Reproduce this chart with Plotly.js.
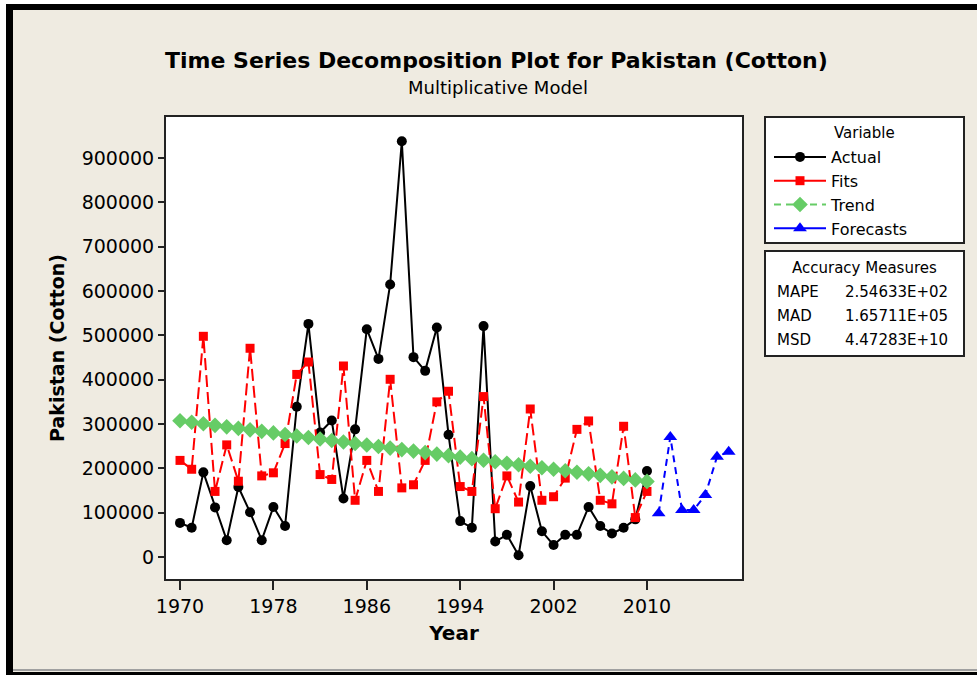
<!DOCTYPE html>
<html><head><meta charset="utf-8">
<script src="https://cdn.plot.ly/plotly-3.0.1.min.js"></script>
<style>html,body{margin:0;padding:0;background:#fff}#chart{width:977px;height:675px}</style>
</head><body><div id="chart"></div>
<script>
const years = [1970,1971,1972,1973,1974,1975,1976,1977,1978,1979,1980,1981,1982,1983,1984,1985,1986,1987,1988,1989,1990,1991,1992,1993,1994,1995,1996,1997,1998,1999,2000,2001,2002,2003,2004,2005,2006,2007,2008,2009,2010];
const actual = [77000,66000,191000,112000,38000,158000,101000,38000,113000,70000,339000,526000,281000,308000,132000,288000,514000,447000,615000,938000,451000,420000,518000,276000,81000,66000,521000,35000,50000,4000,160000,58000,27000,50000,50000,113000,70000,53000,66000,85000,194000];
const fits = [218000,198000,498000,148000,253000,171000,471000,183000,190000,256000,412000,440000,186000,175000,431000,128000,218000,148000,401000,156000,163000,218000,350000,374000,159000,148000,362000,109000,183000,124000,334000,128000,136000,178000,288000,307000,128000,120000,295000,89000,148000];
const trend = [307400,304000,300600,297100,293700,290300,286900,283500,280000,276600,273200,269800,266400,262900,259500,256100,252700,249300,245800,242400,239000,235600,232200,228700,225300,221900,218500,215100,211600,208200,204800,201400,198000,194500,191100,187700,184300,180900,177400,174000,170600];
const forecastYears = [2011,2012,2013,2014,2015,2016,2017];
const forecasts = [98500,271000,106000,106000,140000,226000,237500];
const xTickVals = [1970,1978,1986,1994,2002,2010];
const yTickVals = [0,100000,200000,300000,400000,500000,600000,700000,800000,900000];
const accuracyLabels = ['MAPE','MAD','MSD'];
const accuracyValues = ['2.54633E+02','1.65711E+05','4.47283E+10'];

const W = 977, H = 675;
const M = {l:166, r:235, t:117, b:96};
const PW = W - M.l - M.r, PH = H - M.t - M.b;
const px = x => (x - M.l) / PW;
const py = y => (H - M.b - y) / PH;
const font = 'DejaVu Sans, Verdana, sans-serif';
const beige = 'rgb(239,235,225)';

const styles = {
  Actual: {line: {color: '#000', width: 2}, marker: {symbol: 'circle', size: 10, color: '#000'}},
  Fits: {line: {color: '#ff0000', width: 2, dash: '12px,5px'}, marker: {symbol: 'square', size: 9, color: '#ff0000'}},
  Trend: {line: {color: '#66cc66', width: 2, dash: '8px,5px'}, marker: {symbol: 'diamond', size: 12, color: '#66cc66'}},
  Forecasts: {line: {color: '#0000ff', width: 2, dash: '7px,5px'}, marker: {symbol: 'triangle-up', size: 12, color: '#0000ff'}}
};

const traces = [
  {x: years, y: actual, name: 'Actual', showlegend:false, type: 'scatter', mode: 'lines+markers', line: styles.Actual.line, marker: styles.Actual.marker},
  {x: years, y: fits, name: 'Fits', showlegend:false, type: 'scatter', mode: 'lines+markers', line: styles.Fits.line, marker: styles.Fits.marker},
  {x: years, y: trend, name: 'Trend', showlegend:false, type: 'scatter', mode: 'lines+markers', line: styles.Trend.line, marker: styles.Trend.marker},
  {x: forecastYears, y: forecasts, name: 'Forecasts', showlegend:false, type: 'scatter', mode: 'lines+markers', line: styles.Forecasts.line, marker: styles.Forecasts.marker},
  {x:[null], y:[null], name:'Actual', type:'scatter', mode:'lines+markers', line:{color:'#000', width:2}, marker: styles.Actual.marker},
  {x:[null], y:[null], name:'Fits', type:'scatter', mode:'lines+markers', line:{color:'#ff0000', width:2}, marker: styles.Fits.marker},
  {x:[null], y:[null], name:'Trend', type:'scatter', mode:'lines+markers', line:{color:'#66cc66', width:2, dash:'7px,5px'}, marker: styles.Trend.marker},
  {x:[null], y:[null], name:'Forecasts', type:'scatter', mode:'lines+markers', line:{color:'#0000ff', width:2, dash:'22px,8px'}, marker: styles.Forecasts.marker}
];

const shapes = [
  {type:'rect', xref:'paper', yref:'paper', x0:px(0), x1:px(W), y0:py(0), y1:py(4), fillcolor:'#fff', line:{width:0}},
  {type:'rect', xref:'paper', yref:'paper', x0:px(0), x1:px(6), y0:py(0), y1:py(H), fillcolor:'#fff', line:{width:0}},
  {type:'rect', xref:'paper', yref:'paper', x0:px(6), x1:px(W), y0:py(4), y1:py(10), fillcolor:'#000', line:{width:0}},
  {type:'rect', xref:'paper', yref:'paper', x0:px(6), x1:px(13), y0:py(4), y1:py(H), fillcolor:'#000', line:{width:0}},
  {type:'rect', xref:'paper', yref:'paper', x0:px(13), x1:px(W), y0:py(669), y1:py(671), fillcolor:'#a0a0a0', line:{width:0}},
  {type:'rect', xref:'paper', yref:'paper', x0:px(6), x1:px(W), y0:py(672), y1:py(H), fillcolor:'#000', line:{width:0}},
  {type:'rect', xref:'paper', yref:'paper', x0:px(765), x1:px(964), y0:py(117), y1:py(243), fillcolor:'#fff', line:{color:'#222', width:2}, layer:'below'},
  {type:'rect', xref:'paper', yref:'paper', x0:px(765), x1:px(964), y0:py(251), y1:py(356), fillcolor:'#fff', line:{color:'#222', width:2}, layer:'below'}
];

const annotations = [
  {text:'<b>Time Series Decomposition Plot for Pakistan (Cotton)</b>', xref:'paper', yref:'paper', x:px(496), y:py(60), xanchor:'center', yanchor:'middle', showarrow:false, font:{family:font, size:22, color:'#000'}},
  {text:'Multiplicative Model', xref:'paper', yref:'paper', x:px(498), y:py(88), xanchor:'center', yanchor:'middle', showarrow:false, font:{family:font, size:18, color:'#000'}},
  {text:'Variable', xref:'paper', yref:'paper', x:px(864), y:py(133), xanchor:'center', yanchor:'middle', showarrow:false, font:{family:font, size:15, color:'#000'}},
  {text:'Accuracy Measures', xref:'paper', yref:'paper', x:px(864), y:py(268), xanchor:'center', yanchor:'middle', showarrow:false, font:{family:font, size:15, color:'#000'}}
];
accuracyLabels.forEach((lab, i) => {
  const yy = 292 + i * 24;
  annotations.push({text: lab, xref:'paper', yref:'paper', x:px(775), y:py(yy), xanchor:'left', yanchor:'middle', showarrow:false, font:{family:font, size:15, color:'#000'}});
  annotations.push({text: accuracyValues[i], xref:'paper', yref:'paper', x:px(950), y:py(yy), xanchor:'right', yanchor:'middle', showarrow:false, font:{family:font, size:15, color:'#000'}});
});

const layout = {
  width: W, height: H,
  margin: M,
  paper_bgcolor: beige,
  plot_bgcolor: '#fff',
  showlegend: true,
  legend: {x: px(769), y: py(140), xanchor:'left', yanchor:'top', bgcolor:'rgba(0,0,0,0)', borderwidth:0,
           font:{family:font, size:16, color:'#000'}, itemwidth:52, tracegroupgap:0, traceorder:'normal'},
  xaxis: {range:[1968.8, 2018.14], tickvals: xTickVals, ticks:'outside', ticklen:9, tickwidth:2, tickcolor:'#222',
          showline:true, mirror:true, linecolor:'#222', linewidth:2, showgrid:false, zeroline:false,
          tickfont:{family:font, size:19, color:'#000'},
          title:{text:'<b>Year</b>', font:{family:font, size:20, color:'#000'}, standoff:10}},
  yaxis: {range:[-49600, 992800], tickvals: yTickVals, tickformat:'d', ticks:'outside', ticklen:6, tickwidth:2, tickcolor:'#222',
          showline:true, mirror:true, linecolor:'#222', linewidth:2, showgrid:false, zeroline:false,
          tickfont:{family:font, size:19, color:'#000'},
          title:{text:'<b>Pakistan (Cotton)</b>', font:{family:font, size:19, color:'#000'}, standoff:12}},
  shapes: shapes,
  annotations: annotations
};

Plotly.newPlot('chart', traces, layout, {displayModeBar:false, staticPlot:true});
</script>
</body></html>
